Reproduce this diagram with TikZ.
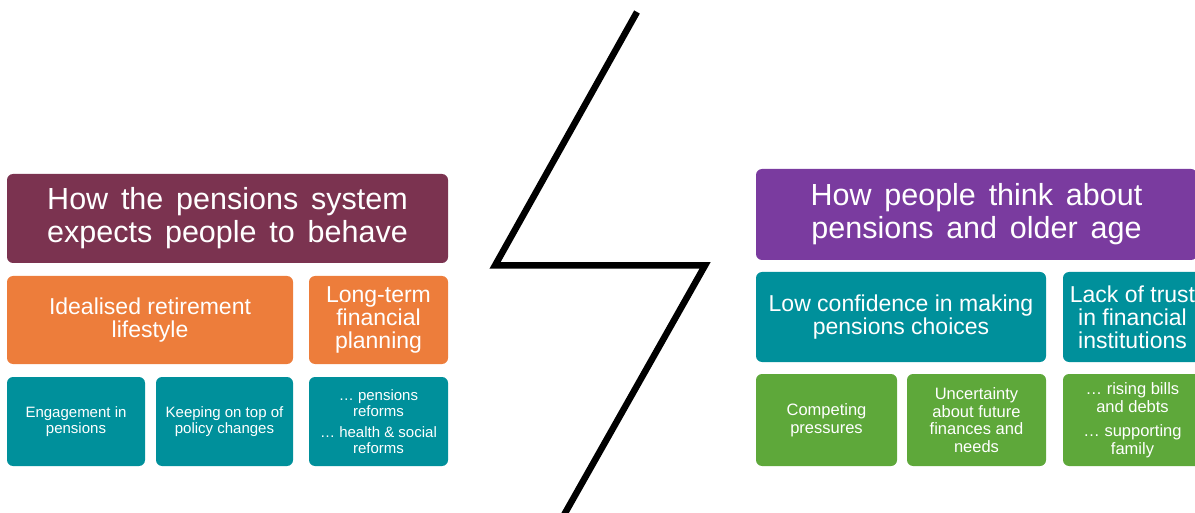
\documentclass[tikz,border=0pt]{standalone}
\usepackage{fontspec}
\setmainfont{Liberation Sans}
\definecolor{cmaroon}{HTML}{7B3350}
\definecolor{corange}{HTML}{ED7D3B}
\definecolor{cteal}{HTML}{00909B}
\definecolor{cpurple}{HTML}{7A3B9F}
\definecolor{cgreen}{HTML}{5EA83A}
\newcommand{\myhdrfont}{\fontsize{30.5}{33}\selectfont\spaceskip=0.42em plus 0.1em\relax}
\tikzset{
  box/.style={rectangle, rounded corners=6pt, inner sep=0pt, text=white, align=center, draw=none},
  hdrbox/.style={box, font=\myhdrfont},
  midbox/.style={box, font=\fontsize{23}{23}\selectfont},
  lowbox/.style={box, font=\fontsize{15}{16}\selectfont},
  grnbox/.style={box, font=\fontsize{16.5}{17.5}\selectfont},
  bolt/.style={line width=6.5pt, line join=miter, miter limit=10, draw=black}
}
\begin{document}
\begin{tikzpicture}[x=1pt,y=-1pt]
\useasboundingbox (0,0) rectangle (1195,513);
\clip (0,0) rectangle (1195,513);
% left side
\node[hdrbox, fill=cmaroon, minimum width=441, minimum height=89] (lh) at (227.5,218.5)
  {How the pensions system\\expects people to behave};
\node[midbox, fill=corange, minimum width=286, minimum height=88] (lm1) at (150,320)
  {Idealised retirement\\lifestyle};
\node[midbox, fill=corange, minimum width=139, minimum height=88] (lm2) at (378.5,320)
  {Long-term\\financial\\planning};
\node[lowbox, fill=cteal, minimum width=138, minimum height=89] (ll1) at (76,421.5)
  {Engagement in\\pensions};
\node[lowbox, fill=cteal, minimum width=137, minimum height=89] (ll2) at (224.5,421.5)
  {Keeping on top of\\policy changes};
\node[lowbox, fill=cteal, minimum width=139, minimum height=89] (ll3) at (378.5,421.5)
  {… pensions\\reforms\\[5pt]… health \& social\\reforms};
% right side
\node[hdrbox, fill=cpurple, minimum width=441, minimum height=91] (rh) at (976.5,214.5)
  {How people think about\\pensions and older age};
\node[midbox, fill=cteal, minimum width=290, minimum height=90] (rm1) at (901,317)
  {Low confidence in making\\pensions choices};
\node[midbox, fill=cteal, minimum width=139, minimum height=90] (rm2) at (1132.5,317)
  {Lack of trust\\in financial\\institutions};
\node[grnbox, fill=cgreen, minimum width=141, minimum height=92] (rl1) at (826.5,420)
  {Competing\\pressures};
\node[grnbox, fill=cgreen, minimum width=139, minimum height=92] (rl2) at (976.5,420)
  {Uncertainty\\about future\\finances and\\needs};
\node[grnbox, fill=cgreen, minimum width=139, minimum height=92] (rl3) at (1132.5,420)
  {… rising bills\\and debts\\[7pt]… supporting\\family};
% lightning bolt
\coordinate (b1) at (637,12);
\coordinate (b2) at (495,265.5);
\coordinate (b3) at (705,265.5);
\coordinate (b4) at (560,522);
\draw[bolt] (b1) -- (b2) -- (b3) -- (b4);
\end{tikzpicture}
\end{document}
